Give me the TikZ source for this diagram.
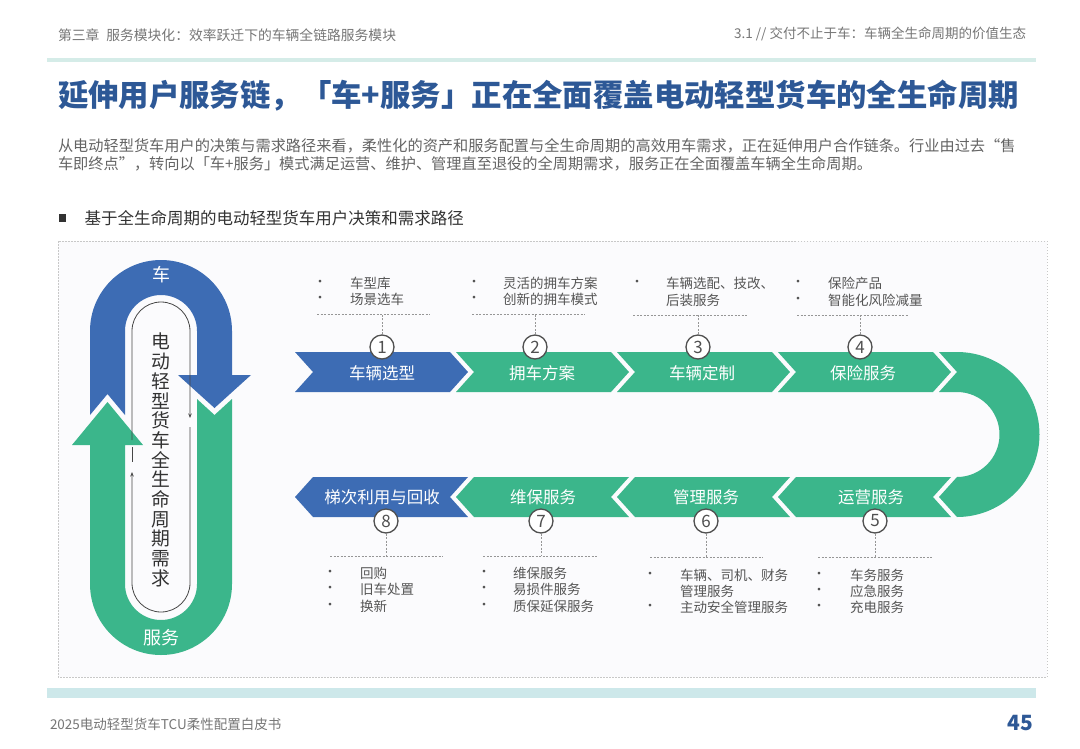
\documentclass[tikz,border=0pt]{standalone}
\usepackage{fontspec}
\setmainfont{Noto Sans CJK SC}
\usetikzlibrary{arrows.meta}
\definecolor{chblue}{RGB}{61,108,180}
\definecolor{chgreen}{RGB}{59,182,139}
\definecolor{titleblue}{RGB}{45,88,150}
\definecolor{hdrgray}{RGB}{118,118,118}
\definecolor{txtgray}{RGB}{100,100,100}
\definecolor{subdark}{RGB}{50,50,50}
\definecolor{bulgray}{RGB}{85,85,85}
\definecolor{numgray}{RGB}{80,80,80}
\definecolor{leadgray}{RGB}{150,150,150}
\definecolor{hdrline}{RGB}{213,236,232}
\definecolor{bandteal}{RGB}{205,232,234}
\definecolor{framegray}{RGB}{200,200,200}
\definecolor{bgpanel}{RGB}{251,251,253}
\definecolor{pillgray}{RGB}{70,70,70}
\tikzset{
  plaintext/.style={inner sep=0pt, outer sep=0pt},
  chevlabel/.style={plaintext, text=white, font=\fontsize{16.5}{18}\selectfont},
  numcirc/.style={circle, draw=numgray, line width=1.3pt, fill=white, minimum size=24pt, inner sep=0pt, font=\fontsize{17}{18}\selectfont, text=numgray},
  leader/.style={draw=leadgray, line width=0.6pt, dash pattern=on 2pt off 1.5pt},
  bultext/.style={plaintext, anchor=west, font=\fontsize{13.5}{16}\selectfont, text=bulgray},
  buldot/.style={plaintext, font=\fontsize{13}{14}\selectfont, text=bulgray},
  pillline/.style={draw=pillgray, line width=0.8pt},
  archlabel/.style={plaintext, text=white, font=\fontsize{18}{20}\selectfont},
}
\begin{document}
\begin{tikzpicture}[x=1pt,y=-1pt]
\useasboundingbox (0,0) rectangle (1080,748);
\fill[white] (0,0) rectangle (1080,748);

% header
\node[plaintext, anchor=west, text=hdrgray, font=\fontsize{13.8}{15}\selectfont] (hdrL) at (58,35) {第三章\hspace{0.5em}服务模块化：效率跃迁下的车辆全链路服务模块};
\node[plaintext, anchor=east, text=hdrgray, font=\fontsize{13.5}{15}\selectfont] (hdrR) at (1026,34) {3.1 // 交付不止于车：车辆全生命周期的价值生态};
\fill[hdrline] (47,58) rectangle (1036,62);

% title
\node[plaintext, anchor=west, text=titleblue, font=\bfseries\fontsize{30.4}{33}\selectfont] (title) at (58,96) {延伸用户服务链，「车+服务」正在全面覆盖电动轻型货车的全生命周期};

% paragraph
\node[plaintext, anchor=west, text=txtgray, font=\fontsize{15.2}{17}\selectfont] (par1) at (58,146) {从电动轻型货车用户的决策与需求路径来看，柔性化的资产和服务配置与全生命周期的高效用车需求，正在延伸用户合作链条。行业由过去“售};
\node[plaintext, anchor=west, text=txtgray, font=\fontsize{15.2}{17}\selectfont] (par2) at (58,164) {车即终点”，转向以「车+服务」模式满足运营、维护、管理直至退役的全周期需求，服务正在全面覆盖车辆全生命周期。};

% subheading
\fill[subdark] (58.5,214) rectangle (66,222);
\node[plaintext, anchor=west, text=subdark, font=\fontsize{16.5}{18}\selectfont] (sub) at (84.5,218) {基于全生命周期的电动轻型货车用户决策和需求路径};

% panel
\fill[bgpanel] (58,241) rectangle (1047,677);
\draw[framegray, line width=0.8pt, dash pattern=on 1.5pt off 1.5pt] (58,241) rectangle (1047,677);

% left loop
\fill[chblue] (90,415) -- (90,331) arc[start angle=180, end angle=360, radius=71]
  -- (232,375) -- (251,375) -- (214.5,408) -- (178,375) -- (197,375) -- (197,331)
  arc[start angle=0, end angle=-180, radius=36] -- (125,415) -- (107.5,394) -- cycle;
\fill[chgreen] (232,399) -- (232,584) arc[start angle=0, end angle=180, radius=71]
  -- (90,445) -- (72,445) -- (107.5,402) -- (143,445) -- (125,445) -- (125,584)
  arc[start angle=180, end angle=0, radius=36] -- (197,399) -- (214.5,415) -- cycle;
\draw[pillline, -{Stealth[length=4.5pt,width=3.5pt]}] (132,440) -- (132,331) arc[start angle=180, end angle=360, radius=29] -- (190,418);
\draw[pillline, -{Stealth[length=4.5pt,width=3.5pt]}] (190,427) -- (190,583) arc[start angle=0, end angle=180, radius=29] -- (132,472);
\draw[pillline] (132,447) -- (132,462);
\node[archlabel] (car) at (161,275) {车};
\node[archlabel] (svc) at (161,638) {服务};
\node[plaintext, align=center, text=subdark, font=\fontsize{18.8}{19.7}\selectfont] (need) at (161,460)
  {电\\动\\轻\\型\\货\\车\\全\\生\\命\\周\\期\\需\\求};

% top chevrons
\fill[chblue]  (295,352) -- (450,352) -- (468,372) -- (450,392) -- (295,392) -- (313,372) -- cycle;
\fill[chgreen] (456,352) -- (611,352) -- (629,372) -- (611,392) -- (456,392) -- (474,372) -- cycle;
\fill[chgreen] (617,352) -- (772,352) -- (790,372) -- (772,392) -- (617,392) -- (635,372) -- cycle;
\fill[chgreen] (778,352) -- (933,352) -- (951,372) -- (933,392) -- (778,392) -- (796,372) -- cycle;
% U turn
\fill[chgreen] (957,372) -- (939,352) -- (957,352) arc[start angle=-90, end angle=90, radius=82.5]
  -- (939,497) -- (957,477) arc[start angle=90, end angle=-90, radius=42.5] -- (939,392) -- cycle;
% bottom chevrons
\fill[chblue]  (295,497) -- (313,477) -- (468,477) -- (450,497) -- (468,517) -- (313,517) -- cycle;
\fill[chgreen] (456,497) -- (474,477) -- (629,477) -- (611,497) -- (629,517) -- (474,517) -- cycle;
\fill[chgreen] (617,497) -- (635,477) -- (790,477) -- (772,497) -- (790,517) -- (635,517) -- cycle;
\fill[chgreen] (778,497) -- (796,477) -- (951,477) -- (933,497) -- (951,517) -- (796,517) -- cycle;

% chevron labels
\node[chevlabel] (l1) at (382,373) {车辆选型};
\node[chevlabel] (l2) at (542,373) {拥车方案};
\node[chevlabel] (l3) at (702,373) {车辆定制};
\node[chevlabel] (l4) at (863,373) {保险服务};
\node[chevlabel] (l8) at (382,497) {梯次利用与回收};
\node[chevlabel] (l7) at (543,497) {维保服务};
\node[chevlabel] (l6) at (706,497) {管理服务};
\node[chevlabel] (l5) at (871,497) {运营服务};

% leaders top
\coordinate (t1) at (382,314); \coordinate (t2) at (535,314);
\coordinate (t3) at (698,315); \coordinate (t4) at (860,315);
\draw[leader] (317,314) -- (430,314);
\draw[leader] (472,314) -- (585,314);
\draw[leader] (633,315) -- (747,315);
\draw[leader] (797,315) -- (908,315);
% leaders bottom
\coordinate (b8) at (386,556); \coordinate (b7) at (541,556);
\coordinate (b6) at (706,557); \coordinate (b5) at (875,557);
\draw[leader] (330,556) -- (443,556);
\draw[leader] (483,556) -- (597,556);
\draw[leader] (650,557) -- (763,557);
\draw[leader] (818,557) -- (932,557);

% circles
\node[numcirc] (n1) at (382,347) {1};
\node[numcirc] (n2) at (535,347) {2};
\node[numcirc] (n3) at (698,347) {3};
\node[numcirc] (n4) at (860,347) {4};
\node[numcirc] (n8) at (386,521) {8};
\node[numcirc] (n7) at (541,521) {7};
\node[numcirc] (n6) at (706,521) {6};
\node[numcirc] (n5) at (875,521) {5};
\draw[leader] (n1.north) -- (t1);
\draw[leader] (n2.north) -- (t2);
\draw[leader] (n3.north) -- (t3);
\draw[leader] (n4.north) -- (t4);
\draw[leader] (n8.south) -- (b8);
\draw[leader] (n7.south) -- (b7);
\draw[leader] (n6.south) -- (b6);
\draw[leader] (n5.south) -- (b5);

% bullets top
\node[buldot] (d1a) at (320,283) {•}; \node[bultext] (x1a) at (350,283) {车型库};
\node[buldot] (d1b) at (320,299) {•}; \node[bultext] (x1b) at (350,299) {场景选车};
\node[buldot] (d2a) at (474,283) {•}; \node[bultext] (x2a) at (503,283) {灵活的拥车方案};
\node[buldot] (d2b) at (474,299) {•}; \node[bultext] (x2b) at (503,299) {创新的拥车模式};
\node[buldot] (d3a) at (637,283) {•}; \node[bultext] (x3a) at (666,283) {车辆选配、技改、};
\node[bultext] (x3b) at (666,300) {后装服务};
\node[buldot] (d4a) at (798,283) {•}; \node[bultext] (x4a) at (828,283) {保险产品};
\node[buldot] (d4b) at (798,300) {•}; \node[bultext] (x4b) at (828,300) {智能化风险减量};
% bullets bottom
\node[buldot] (d8a) at (330,573) {•}; \node[bultext] (x8a) at (360,573) {回购};
\node[buldot] (d8b) at (330,589) {•}; \node[bultext] (x8b) at (360,589) {旧车处置};
\node[buldot] (d8c) at (330,606) {•}; \node[bultext] (x8c) at (360,606) {换新};
\node[buldot] (d7a) at (484,573) {•}; \node[bultext] (x7a) at (513,573) {维保服务};
\node[buldot] (d7b) at (484,589) {•}; \node[bultext] (x7b) at (513,589) {易损件服务};
\node[buldot] (d7c) at (484,606) {•}; \node[bultext] (x7c) at (513,606) {质保延保服务};
\node[buldot] (d6a) at (650,575) {•}; \node[bultext] (x6a) at (680,575) {车辆、司机、财务};
\node[bultext] (x6b) at (680,591.5) {管理服务};
\node[buldot] (d6c) at (650,607) {•}; \node[bultext] (x6c) at (680,607) {主动安全管理服务};
\node[buldot] (d5a) at (819,575) {•}; \node[bultext] (x5a) at (850,575) {车务服务};
\node[buldot] (d5b) at (819,591) {•}; \node[bultext] (x5b) at (850,591) {应急服务};
\node[buldot] (d5c) at (819,607) {•}; \node[bultext] (x5c) at (850,607) {充电服务};

% footer
\fill[bandteal] (47,688) rectangle (1036,698);
\node[plaintext, anchor=west, text=hdrgray, font=\fontsize{13.5}{15}\selectfont] (foot) at (50,724) {2025电动轻型货车TCU柔性配置白皮书};
\node[plaintext, anchor=east, text=titleblue, font=\bfseries\fontsize{21}{23}\selectfont] (page) at (1033,723) {45};
\end{tikzpicture}
\end{document}
